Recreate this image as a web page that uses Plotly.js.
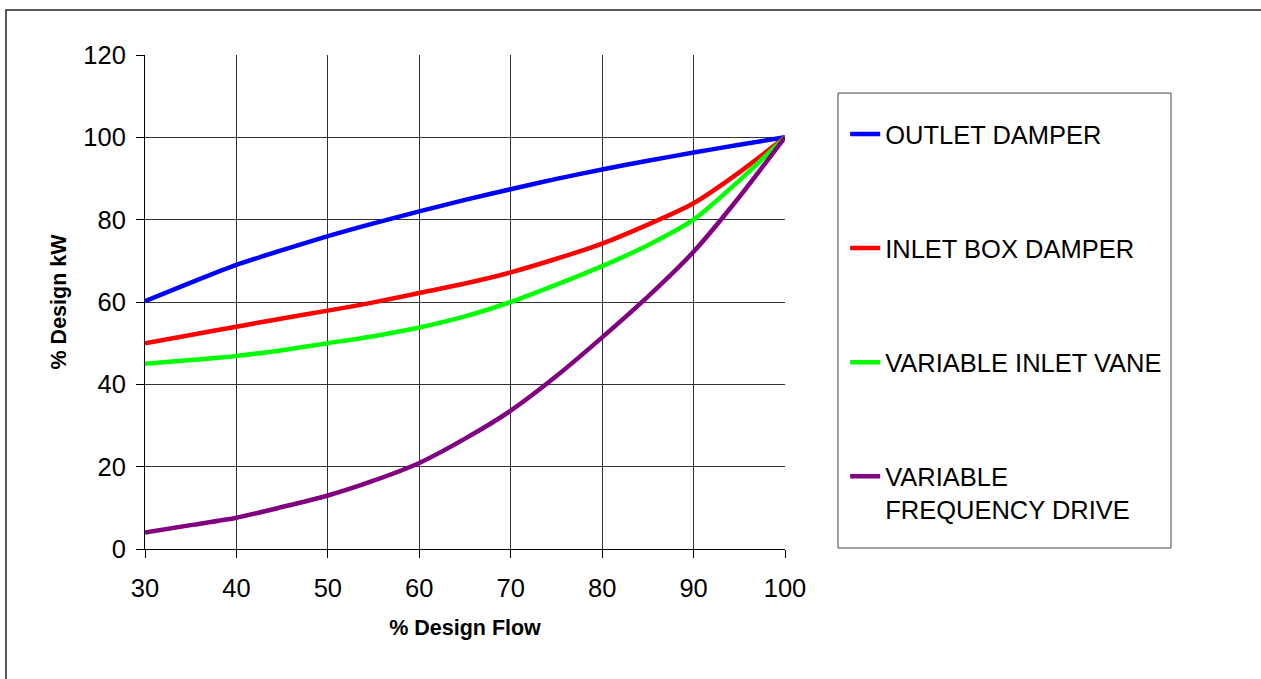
<!DOCTYPE html>
<html>
<head>
<meta charset="utf-8">
<script src="https://cdn.plot.ly/plotly-3.0.1.min.js"></script>
<style>html,body{margin:0;padding:0;background:#fff;}#chart{width:1261px;height:679px;}</style>
</head>
<body>
<div id="chart"></div>
<script>
const flow = [30, 35, 40, 45, 50, 55, 60, 65, 70, 75, 80, 85, 90, 95, 100];
const outletDamper = [60.2, 64.7, 69.0, 72.6, 76.0, 79.1, 82.0, 84.8, 87.4, 89.9, 92.2, 94.3, 96.3, 98.2, 100];
const inletBoxDamper = [50, 52, 54, 56, 57.9, 59.9, 62.2, 64.5, 67.2, 70.5, 74.2, 78.8, 84.0, 91.5, 100];
const variableInletVane = [45, 45.9, 46.9, 48.3, 50.0, 51.7, 53.8, 56.5, 60.0, 64.2, 68.7, 73.8, 80.0, 89.5, 100];
const variableFreqDrive = [4, 5.8, 7.6, 10.2, 13.0, 16.6, 20.9, 26.8, 33.6, 42.0, 51.4, 61.3, 72.2, 85.5, 100];
const seriesNames = ['OUTLET DAMPER', 'INLET BOX DAMPER', 'VARIABLE INLET VANE', 'VARIABLE<br>FREQUENCY DRIVE'];
const seriesColors = ['#0000FF', '#FF0000', '#00FF00', '#800080'];
const seriesValues = [outletDamper, inletBoxDamper, variableInletVane, variableFreqDrive];

const FONT = 'Liberation Sans, Arial, sans-serif';
const traces = seriesValues.map((vals, i) => ({
  x: flow, y: vals, type: 'scatter', mode: 'lines',
  name: seriesNames[i], legendgroup: 'g' + i,
  line: {color: seriesColors[i], width: 4.5, shape: 'spline', smoothing: 0.7}
}));

const layout = {
  width: 1261, height: 679,
  margin: {l: 145, r: 476, t: 55, b: 130},
  paper_bgcolor: '#fff', plot_bgcolor: '#fff',
  font: {family: FONT, color: '#000'},
  xaxis: {
    range: [30, 100], tickvals: [30, 40, 50, 60, 70, 80, 90, 100],
    showgrid: true, gridcolor: '#333', gridwidth: 1,
    ticks: 'outside', ticklen: 8, tickcolor: '#000', tickwidth: 1,
    showline: true, linecolor: '#000', linewidth: 1,
    zeroline: false, tickfont: {size: 25.5, family: FONT},
    ticklabelstandoff: 8,
    title: {text: '<b>% Design Flow</b>', font: {size: 21.5, family: FONT}, standoff: 19}
  },
  yaxis: {
    range: [0, 120], tickvals: [0, 20, 40, 60, 80, 100, 120],
    showgrid: true, gridcolor: '#333', gridwidth: 1,
    ticks: 'outside', ticklen: 8, tickcolor: '#000', tickwidth: 1,
    showline: true, linecolor: '#000', linewidth: 1,
    zeroline: false, tickfont: {size: 25.5, family: FONT},
    ticklabelstandoff: 5,
    title: {text: '<b>% Design kW</b>', font: {size: 21.5, family: FONT}, standoff: 10}
  },
  showlegend: true,
  legend: {
    x: 1.094, y: 0.887, xanchor: 'left', yanchor: 'top',
    bgcolor: 'rgba(0,0,0,0)', borderwidth: 0,
    font: {size: 25.5, family: FONT, color: '#000'},
    tracegroupgap: 78, valign: 'top', traceorder: 'grouped'
  },
  shapes: [
    {type: 'rect', xref: 'paper', yref: 'paper', x0: -0.2172, x1: 2.5, y0: -1, y1: 1.0911,
     line: {color: '#222', width: 1.5}, fillcolor: 'rgba(0,0,0,0)', layer: 'below'},
    {type: 'rect', xref: 'paper', yref: 'paper', x0: 1.0828, x1: 1.6031, y0: 0.002, y1: 0.923,
     line: {color: '#444', width: 1}, fillcolor: 'rgba(0,0,0,0)'}
  ]
};

Plotly.newPlot('chart', traces, layout, {displayModeBar: false, staticPlot: true});
</script>
</body>
</html>
